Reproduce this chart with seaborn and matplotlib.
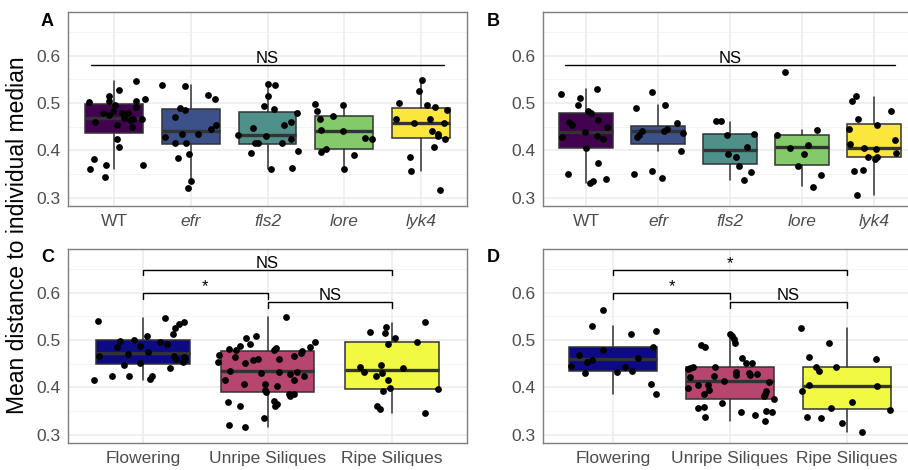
import numpy as np
import pandas as pd
import matplotlib
matplotlib.use("Agg")
from matplotlib import pyplot as plt
import seaborn as sns

genotypes = ['WT', 'efr', 'fls2', 'lore', 'lyk4']
stages = ['Flowering', 'Unripe Siliques', 'Ripe Siliques']

# ---- panel A: values and horizontal jitter ----
a_wt_val = [0.547, 0.528, 0.516, 0.504, 0.502, 0.496, 0.505, 0.508, 0.491, 0.479, 0.483, 0.475, 0.480, 0.479,
            0.468, 0.465, 0.466, 0.466, 0.454, 0.450, 0.461, 0.425, 0.406, 0.382, 0.360, 0.369, 0.344, 0.369]
a_wt_jit = [0.28, 0.07, -0.06, -0.07, -0.33, 0.01, 0.29, 0.40, 0.29, -0.15, -0.02, -0.06, 0.11, 0.18,
            0.13, 0.21, 0.25, 0.37, 0.04, 0.23, -0.25, 0.04, 0.07, -0.26, -0.31, -0.10, -0.12, 0.38]
a_efr_val = [0.539, 0.536, 0.518, 0.509, 0.489, 0.486, 0.471, 0.428, 0.416, 0.434, 0.416, 0.434, 0.446, 0.453,
             0.384, 0.392, 0.335, 0.320]
a_efr_jit = [-0.38, -0.07, 0.22, 0.31, -0.14, -0.07, -0.21, -0.34, -0.20, -0.11, -0.06, 0.09, 0.27, 0.33,
             -0.17, -0.02, 0.00, -0.04]
a_fls2_val = [0.541, 0.538, 0.515, 0.494, 0.487, 0.479, 0.460, 0.453, 0.447, 0.433, 0.430, 0.424, 0.416, 0.416,
              0.416, 0.398, 0.394, 0.360, 0.363]
a_fls2_jit = [0.01, 0.10, 0.01, -0.04, 0.09, 0.38, 0.31, 0.22, -0.19, -0.39, -0.02, 0.30, 0.19, -0.16,
              -0.12, 0.40, -0.22, 0.04, 0.32]
a_lore_val = [0.498, 0.497, 0.484, 0.473, 0.467, 0.442, 0.440, 0.426, 0.424, 0.403, 0.397, 0.390, 0.361]
a_lore_jit = [-0.38, -0.01, -0.36, -0.14, -0.31, -0.30, -0.01, 0.27, 0.36, -0.24, -0.30, 0.13, 0.00]
a_lyk4_val = [0.548, 0.526, 0.500, 0.497, 0.491, 0.486, 0.467, 0.466, 0.458, 0.457, 0.441, 0.434, 0.430, 0.424,
              0.408, 0.386, 0.357, 0.315]
a_lyk4_jit = [0.02, -0.02, -0.28, 0.08, 0.18, 0.34, -0.32, 0.12, -0.09, 0.30, 0.15, 0.22, 0.22, 0.31,
              0.17, -0.14, -0.13, 0.25]

# ---- panel B ----
b_wt_val = [0.519, 0.529, 0.511, 0.495, 0.484, 0.479, 0.460, 0.453, 0.465, 0.450, 0.439, 0.428, 0.430, 0.424,
            0.405, 0.374, 0.350, 0.339, 0.335, 0.330]
b_wt_jit = [-0.35, 0.15, -0.09, -0.12, 0.02, 0.07, -0.24, -0.19, 0.16, 0.29, -0.02, -0.33, 0.15, 0.23,
            0.00, 0.16, -0.25, 0.27, 0.09, 0.06]
b_efr_val = [0.524, 0.490, 0.496, 0.458, 0.440, 0.433, 0.429, 0.441, 0.445, 0.436, 0.399, 0.349, 0.357, 0.341]
b_efr_jit = [-0.08, -0.31, 0.09, 0.27, -0.22, -0.26, -0.29, 0.08, 0.13, 0.35, 0.32, -0.34, -0.08, 0.05]
b_fls2_val = [0.462, 0.462, 0.433, 0.435, 0.407, 0.392, 0.385, 0.367, 0.353, 0.337]
b_fls2_jit = [-0.19, -0.12, -0.04, 0.33, 0.24, -0.03, 0.09, 0.13, 0.29, 0.20]
b_lore_val = [0.565, 0.433, 0.443, 0.411, 0.405, 0.393, 0.367, 0.347, 0.323]
b_lore_jit = [-0.23, -0.34, 0.21, 0.09, -0.16, 0.03, -0.06, 0.26, 0.16]
b_lyk4_val = [0.504, 0.514, 0.484, 0.467, 0.454, 0.445, 0.421, 0.413, 0.404, 0.403, 0.395, 0.385, 0.381, 0.385,
              0.356, 0.359, 0.306]
b_lyk4_jit = [-0.31, -0.25, 0.24, -0.22, 0.05, -0.34, 0.29, -0.33, -0.14, 0.03, 0.31, -0.08, 0.01, 0.05,
              -0.28, -0.15, -0.23]

# ---- panel C ----
c_flow_val = [0.540, 0.547, 0.538, 0.535, 0.526, 0.513, 0.508, 0.501, 0.499, 0.497, 0.491, 0.485, 0.487, 0.475,
              0.470, 0.467, 0.467, 0.461, 0.465, 0.459, 0.453, 0.451, 0.447, 0.441, 0.424, 0.417, 0.424, 0.423, 0.416]
c_flow_jit = [-0.36, 0.18, 0.33, 0.29, 0.26, 0.24, 0.03, -0.07, -0.18, 0.14, 0.19, -0.21, -0.02, 0.04,
              -0.12, -0.35, 0.25, 0.27, 0.33, 0.34, 0.32, -0.02, -0.15, 0.22, 0.07, 0.06, -0.25, -0.11, -0.39]
c_unripe_val = [0.468, 0.453, 0.482, 0.478, 0.488, 0.505, 0.491, 0.508, 0.465, 0.457, 0.460, 0.452, 0.434, 0.415,
                0.406, 0.430, 0.408, 0.394, 0.390, 0.369, 0.361, 0.321, 0.315, 0.334,
                0.548, 0.497, 0.485, 0.477, 0.472, 0.484, 0.479, 0.467, 0.461, 0.433, 0.428, 0.433, 0.425, 0.415,
                0.403, 0.385, 0.385, 0.382, 0.370, 0.364, 0.360]
c_unripe_jit = [-0.39, -0.40, -0.31, -0.25, -0.22, -0.17, -0.14, -0.09, -0.26, -0.12, -0.08, -0.18, -0.30, -0.34,
                -0.19, -0.05, -0.02, -0.02, -0.01, -0.32, -0.22, -0.31, -0.18, -0.03,
                0.15, 0.38, 0.34, 0.28, 0.27, 0.07, 0.05, 0.21, 0.09, 0.09, 0.18, 0.24, 0.29, 0.21,
                0.08, 0.17, 0.21, 0.18, 0.05, 0.08, 0.06]
c_ripe_val = [0.539, 0.517, 0.528, 0.514, 0.504, 0.492, 0.495, 0.442, 0.433, 0.447, 0.440, 0.425, 0.430, 0.416,
              0.398, 0.392, 0.396, 0.360, 0.355, 0.345]
c_ripe_jit = [0.26, -0.18, -0.05, -0.06, 0.02, -0.03, 0.20, -0.26, -0.23, -0.09, 0.09, -0.13, -0.08, -0.03,
              -0.02, -0.07, 0.37, -0.12, -0.10, 0.26]

# ---- panel D ----
d_flow_val = [0.564, 0.530, 0.513, 0.520, 0.479, 0.485, 0.468, 0.462, 0.458, 0.454, 0.445, 0.442, 0.433, 0.435,
              0.430, 0.406, 0.385]
d_flow_jit = [-0.09, -0.18, 0.15, 0.37, -0.09, 0.34, -0.29, 0.21, -0.18, -0.22, -0.36, 0.10, 0.03, 0.16,
              -0.24, 0.32, 0.37]
d_unripe_val = [0.489, 0.485, 0.513, 0.508, 0.503, 0.494, 0.463, 0.451, 0.451, 0.432, 0.427, 0.431, 0.426, 0.428,
                0.439, 0.441, 0.443, 0.444, 0.421, 0.424, 0.413, 0.404, 0.405, 0.394, 0.385, 0.399, 0.411, 0.392,
                0.385, 0.382, 0.375, 0.367, 0.357, 0.358, 0.337, 0.348, 0.341, 0.350, 0.348, 0.329]
d_unripe_jit = [-0.25, -0.21, 0.00, 0.02, 0.03, 0.04, 0.10, 0.14, 0.19, 0.05, 0.05, 0.16, 0.17, 0.23,
                -0.36, -0.34, -0.32, -0.13, -0.34, -0.14, -0.05, -0.27, -0.19, -0.18, -0.22, -0.36, 0.33, 0.31,
                0.30, 0.29, 0.38, -0.07, -0.27, -0.22, -0.21, 0.09, 0.21, 0.31, 0.36, 0.30]
d_ripe_val = [0.525, 0.494, 0.465, 0.459, 0.444, 0.435, 0.442, 0.405, 0.392, 0.402, 0.368, 0.356, 0.352, 0.338,
              0.334, 0.324, 0.306]
d_ripe_jit = [-0.39, -0.15, -0.32, 0.25, -0.26, -0.24, -0.09, -0.32, -0.38, 0.26, 0.04, -0.14, 0.37, -0.34,
              -0.22, -0.04, 0.13]

# ---- box statistics (q1, median, q3, whisker ends) ----
a_q1 = [0.437, 0.414, 0.414, 0.402, 0.426]
a_med = [0.469, 0.440, 0.433, 0.440, 0.457]
a_q3 = [0.498, 0.488, 0.482, 0.472, 0.490]
a_lo = [0.360, 0.332, 0.360, 0.361, 0.357]
a_hi = [0.546, 0.538, 0.540, 0.499, 0.549]

b_q1 = [0.405, 0.413, 0.371, 0.368, 0.385]
b_med = [0.439, 0.441, 0.400, 0.407, 0.405]
b_q3 = [0.479, 0.452, 0.435, 0.433, 0.455]
b_lo = [0.331, 0.399, 0.337, 0.325, 0.306]
b_hi = [0.529, 0.496, 0.461, 0.443, 0.512]

c_q1 = [0.450, 0.389, 0.397]
c_med = [0.4725, 0.434, 0.436]
c_q3 = [0.501, 0.477, 0.497]
c_lo = [0.416, 0.315, 0.345]
c_hi = [0.546, 0.548, 0.537]

d_q1 = [0.4345, 0.375, 0.353]
d_med = [0.460, 0.413, 0.403]
d_q3 = [0.4846, 0.442, 0.444]
d_lo = [0.386, 0.329, 0.306]
d_hi = [0.529, 0.514, 0.525]

# significance labels for the stage comparisons
c_signif = ['*', 'NS', 'NS']   # Flow-Unripe, Unripe-Ripe, Flow-Ripe
d_signif = ['*', 'NS', '*']

geno_colors = ['#42024f', '#3c518a', '#4f908a', '#84c96a', '#fbe63c']
stage_colors = ['#0c0a84', '#b6466f', '#f2f943']


def make_df(cats, vals, jits):
    frames = []
    for i, (c, v, j) in enumerate(zip(cats, vals, jits)):
        frames.append(pd.DataFrame({'group': c, 'value': v, 'xpos': i + np.array(j)}))
    return pd.concat(frames, ignore_index=True)


def draw_panel(ax, cats, df, q1, med, q3, lo, hi, colors, italic=False):
    n = len(cats)
    stats = [dict(q1=q1[i], med=med[i], q3=q3[i], whislo=lo[i], whishi=hi[i], fliers=[])
             for i in range(n)]
    bp = ax.bxp(stats, positions=range(n), widths=0.75, patch_artist=True, showfliers=False,
                showcaps=False, manage_ticks=False,
                boxprops=dict(edgecolor='#333333', linewidth=1.1),
                medianprops=dict(color='#333333', linewidth=2.4, solid_capstyle='butt'),
                whiskerprops=dict(color='#333333', linewidth=1.1))
    for patch, col in zip(bp['boxes'], colors):
        patch.set_facecolor(col)
    sns.scatterplot(data=df, x='xpos', y='value', color='black', s=24, linewidth=0,
                    legend=False, ax=ax, zorder=3)
    ax.set_xlim(-0.6, n - 0.4)
    ax.set_ylim(0.282, 0.693)
    ax.set_xticks(range(n))
    ax.set_xticklabels(cats)
    if italic:
        for lab in ax.get_xticklabels()[1:]:
            lab.set_style('italic')
    ax.set_yticks([0.3, 0.4, 0.5, 0.6])
    ax.set_yticklabels(['0.3', '0.4', '0.5', '0.6'])
    ax.set_yticks([0.35, 0.45, 0.55, 0.65], minor=True)
    ax.set_xlabel('')
    ax.set_ylabel('')
    ax.set_axisbelow(True)
    ax.grid(which='major', color='#EBEBEB', linewidth=1.1)
    ax.grid(which='minor', axis='y', color='#F2F2F2', linewidth=0.6)
    ax.tick_params(axis='both', which='major', length=3.5, width=0.8, color='#333333',
                   labelcolor='#4D4D4D', labelsize=12.5, pad=2)
    ax.tick_params(axis='y', which='minor', length=0)
    for sp in ax.spines.values():
        sp.set_color('#7F7F7F')
        sp.set_linewidth(1.0)


def bracket(ax, x1, x2, y, label, tip=0.012):
    ax.plot([x1, x1, x2, x2], [y - tip, y, y, y - tip], color='black', lw=1.0)
    ax.text((x1 + x2) / 2, y + 0.004, label, ha='center', va='baseline', fontsize=12, color='black')


sns.set_style('white')
plt.rcParams['font.family'] = ['Liberation Sans', 'DejaVu Sans']
plt.rcParams['text.color'] = 'black'

fig = plt.figure(figsize=(9.08, 4.70), dpi=100)
ax_a = fig.add_axes([68 / 908, 1 - 206 / 470, 399 / 908, 194 / 470])
ax_b = fig.add_axes([543 / 908, 1 - 206 / 470, 374 / 908, 194 / 470])
ax_c = fig.add_axes([68 / 908, 1 - 443 / 470, 399 / 908, 194 / 470])
ax_d = fig.add_axes([543 / 908, 1 - 443 / 470, 374 / 908, 194 / 470])

df_a = make_df(genotypes, [a_wt_val, a_efr_val, a_fls2_val, a_lore_val, a_lyk4_val],
               [a_wt_jit, a_efr_jit, a_fls2_jit, a_lore_jit, a_lyk4_jit])
df_b = make_df(genotypes, [b_wt_val, b_efr_val, b_fls2_val, b_lore_val, b_lyk4_val],
               [b_wt_jit, b_efr_jit, b_fls2_jit, b_lore_jit, b_lyk4_jit])
df_c = make_df(stages, [c_flow_val, c_unripe_val, c_ripe_val], [c_flow_jit, c_unripe_jit, c_ripe_jit])
df_d = make_df(stages, [d_flow_val, d_unripe_val, d_ripe_val], [d_flow_jit, d_unripe_jit, d_ripe_jit])

draw_panel(ax_a, genotypes, df_a, a_q1, a_med, a_q3, a_lo, a_hi, geno_colors, italic=True)
draw_panel(ax_b, genotypes, df_b, b_q1, b_med, b_q3, b_lo, b_hi, geno_colors, italic=True)
draw_panel(ax_c, stages, df_c, c_q1, c_med, c_q3, c_lo, c_hi, stage_colors)
draw_panel(ax_d, stages, df_d, d_q1, d_med, d_q3, d_lo, d_hi, stage_colors)

# overall test across genotypes
for ax in (ax_a, ax_b):
    ax.plot([-0.3, 4.3], [0.58, 0.58], color='black', lw=1.0)
    ax.text(2, 0.584, 'NS', ha='center', va='baseline', fontsize=12, color='black')

for ax, sig in ((ax_c, c_signif), (ax_d, d_signif)):
    bracket(ax, 0, 1, 0.60, sig[0])
    bracket(ax, 1, 2, 0.58, sig[1])
    bracket(ax, 0, 2, 0.649, sig[2])

for lab, x, y in (('A', 41, 25.5), ('B', 487, 25.5), ('C', 41, 262.5), ('D', 487, 262.5)):
    fig.text(x / 908, 1 - y / 470, lab, fontsize=13, fontweight='bold', ha='left', va='baseline',
             color='black')

fig.text(18 / 908, 0.5, 'Mean distance to individual median', rotation=90, ha='center', va='center',
         fontsize=16.5, color='black')

fig.savefig('out.png', dpi=100)
